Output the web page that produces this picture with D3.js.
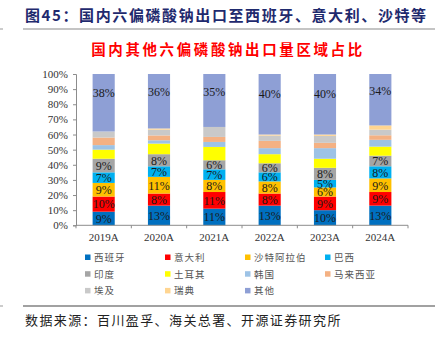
<!DOCTYPE html>
<html><head><meta charset="utf-8">
<script src="https://cdn.jsdelivr.net/npm/d3@7"></script>
<style>body{margin:0;background:#fff}svg{display:block}</style>
</head><body>
<svg id="c" width="444" height="337"></svg>
<script>
const categories = ["2019A","2020A","2021A","2022A","2023A","2024A"];
const seriesNames = ["西班牙","意大利","沙特阿拉伯","巴西","印度","土耳其","韩国","马来西亚","埃及","瑞典","其他"];
const spain   = [9, 13, 11, 13, 10, 13];
const italy   = [10, 8, 11, 8, 9, 9];
const saudi   = [9, 11, 8, 8, 6, 9];
const brazil  = [7, 7, 7, 6, 5, 8];
const india   = [9, 8, 6, 6, 8, 7];
const turkey  = [6, 7, 8.8, 6, 6, 6];
const korea   = [3, 2.2, 3.3, 4, 7, 4.5];
const malaysia= [5, 3.2, 3.3, 4.8, 3.5, 3];
const egypt   = [4, 3.8, 6.6, 3.5, 4.6, 3.7];
const sweden  = [0, 0.8, 0, 0.7, 0.9, 2.8];
const others  = [38, 36, 35, 40, 40, 34];
const labelled = [true,true,true,true,true,false,false,false,false,false,true];
const yTicks = [0,10,20,30,40,50,60,70,80,90,100];
const colors = ["#0070C0","#FF0000","#FFC000","#00B0F0","#A5A5A5","#FFFF00","#9DC3E6","#F4B183","#C9C9C9","#FFD591","#8E9FD5"];
const seriesVals = [spain,italy,saudi,brazil,india,turkey,korea,malaysia,egypt,sweden,others];

const svg = d3.select("#c");
const CJK = "'Noto Sans CJK SC', sans-serif";
const SERIF = "'Liberation Serif', 'Times New Roman', serif";

// header
svg.append("line").attr("x1",0).attr("x2",3).attr("y1",29).attr("y2",29).attr("stroke","#999");
svg.append("line").attr("x1",23).attr("x2",435).attr("y1",29).attr("y2",29).attr("stroke","#8a8a8a").attr("stroke-width",1.2);
svg.append("text").attr("x",25).attr("y",21).attr("font-family",CJK).attr("font-weight","bold")
  .attr("font-size",15).attr("letter-spacing",1.6).attr("fill","#1F2A6E")
  .text("图45：国内六偏磷酸钠出口至西班牙、意大利、沙特等");
svg.append("text").attr("x",228).attr("y",55).attr("text-anchor","middle").attr("font-family",CJK)
  .attr("font-size",14.5).attr("letter-spacing",2.6).attr("fill","#FF0000").attr("font-weight","bold")
  .text("国内其他六偏磷酸钠出口量区域占比");

// plot
const x = d3.scaleBand().domain(categories).range([76,408]).paddingInner(0.6).paddingOuter(0.3);
const y = d3.scaleLinear().domain([0,100]).range([225.3,74]);

const table = categories.map((c,i)=>{const o={cat:c}; seriesNames.forEach((s,j)=>o[s]=seriesVals[j][i]); return o;});
const stack = d3.stack().keys(seriesNames)(table);

stack.forEach((layer,j)=>{
  const g = svg.append("g");
  g.selectAll("rect").data(layer).join("rect")
    .attr("x",d=>x(d.data.cat)).attr("width",x.bandwidth())
    .attr("y",d=>y(d[1])).attr("height",d=>Math.max(0,y(d[0])-y(d[1])))
    .attr("fill",colors[j]);
  if(labelled[j]){
    g.selectAll("text").data(layer).join("text")
      .attr("x",d=>x(d.data.cat)+x.bandwidth()/2)
      .attr("y",d=> j===10 ? y(d[1]) + (y(d[0])-y(d[1]))*0.33 + 4.5 : (y(d[0])+y(d[1]))/2+4.3)
      .attr("text-anchor","middle").attr("font-family",SERIF).attr("font-size",12)
      .attr("fill","#1a1a1a").text(d=>Math.round(d[1]-d[0])+"%");
  }
});

// y axis
const ya = svg.append("g").attr("transform","translate(76,0)")
  .call(d3.axisLeft(y).tickValues(yTicks).tickSize(3).tickFormat(d=>d+"%"));
ya.select(".domain").attr("stroke","#8c8c8c");
ya.selectAll(".tick line").attr("stroke","#8c8c8c");
ya.selectAll("text").attr("font-family",SERIF).attr("font-size",11).attr("fill","#333").attr("x",-8);

// x axis
const xa = svg.append("g").attr("transform","translate(0,225.3)");
xa.append("line").attr("x1",76).attr("x2",408).attr("stroke","#8c8c8c");
const bounds = d3.range(categories.length+1).map(i=>76+i*(332/categories.length));
xa.selectAll("line.t").data(bounds).join("line").attr("class","t")
  .attr("x1",d=>d).attr("x2",d=>d).attr("y1",0).attr("y2",3).attr("stroke","#8c8c8c");
xa.selectAll("text").data(categories).join("text")
  .attr("x",d=>x(d)+x.bandwidth()/2).attr("y",15.5).attr("text-anchor","middle")
  .attr("font-family",SERIF).attr("font-size",11).attr("fill","#333").text(d=>d);

// legend
const lg = svg.append("g");
seriesNames.forEach((s,i)=>{
  const col=i%4,row=Math.floor(i/4);
  const lx=85+col*80, ly=257.5+row*16.7;
  lg.append("rect").attr("x",lx).attr("y",ly-3).attr("width",5.5).attr("height",5.5).attr("fill",colors[i]);
  lg.append("text").attr("x",lx+9).attr("y",ly+3.5).attr("font-family",CJK).attr("font-size",9.5)
    .attr("letter-spacing",1).attr("fill","#555").text(s);
});

// footer
svg.append("line").attr("x1",0).attr("x2",3).attr("y1",306).attr("y2",306).attr("stroke","#999");
svg.append("line").attr("x1",23).attr("x2",435).attr("y1",306).attr("y2",306).attr("stroke","#444").attr("stroke-width",1.2);
svg.append("text").attr("x",25).attr("y",325).attr("font-family",CJK).attr("font-size",13)
  .attr("letter-spacing",1.4).attr("fill","#222").text("数据来源：百川盈孚、海关总署、开源证券研究所");
</script>
</body></html>
